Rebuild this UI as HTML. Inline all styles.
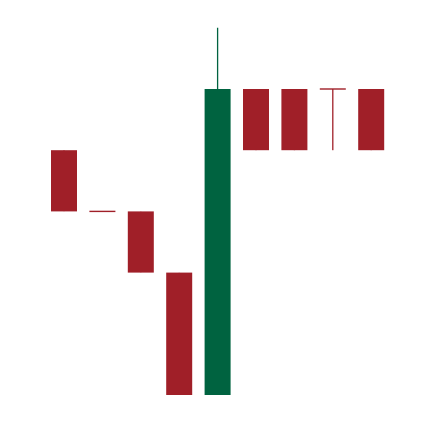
<!DOCTYPE html>
<html><head><meta charset="utf-8"><style>html,body{margin:0;padding:0;background:#fff;width:434px;height:422px;overflow:hidden}</style></head>
<body>
<svg id="chart" width="434" height="422" xmlns="http://www.w3.org/2000/svg"></svg>
<script>
const categories = [1,2,3,4,5,6,7,8,9];
const opens  = [4,3,3,2,0,5,5,5,5];
const highs  = [4,3,3,2,6,5,5,5,5];
const lows   = [3,3,2,0,0,4,4,4,4];
const closes = [3,3,2,0,5,4,4,5,4];

const svg = document.getElementById('chart');
const NS = 'http://www.w3.org/2000/svg';
function xScale(i){ return 64 + i*38.4; }
function yScale(v){ return 395 - v*61.2; }
const bw = 26;
categories.forEach((c,i)=>{
  const o=opens[i], cl=closes[i], h=highs[i], l=lows[i];
  const up = cl>o;
  const col = up ? '#006340' : '#A01F28';
  const g = document.createElementNS(NS,'g');
  
  
  const cx = xScale(i);
  const wick = document.createElementNS(NS,'line');
  
  
  wick.setAttribute('x1',cx);wick.setAttribute('x2',cx);
  wick.setAttribute('y1',yScale(h));wick.setAttribute('y2',yScale(l));
  wick.setAttribute('stroke',col);wick.setAttribute('stroke-width',1.3);
  g.appendChild(wick);
  const top = yScale(Math.max(o,cl)), bot = yScale(Math.min(o,cl));
  const body = document.createElementNS(NS,'rect');
  
  
  body.setAttribute('x',cx-bw/2);body.setAttribute('width',bw);
  body.setAttribute('y',top-(bot===top?0.7:0));
  body.setAttribute('height',Math.max(bot-top,1.4));
  body.setAttribute('fill',col);
  g.appendChild(body);
  svg.appendChild(g);
});
</script>
</body></html>
